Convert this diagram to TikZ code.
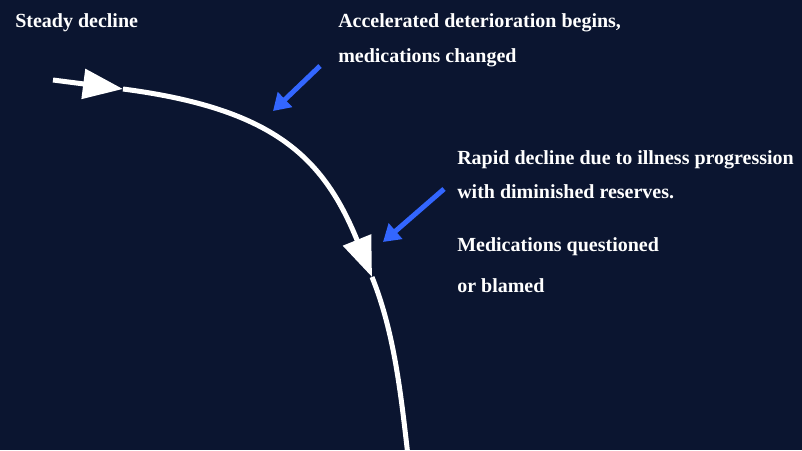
\documentclass[tikz,border=0pt]{standalone}
\usepackage{fontspec}
\setmainfont{Liberation Serif}
\usetikzlibrary{arrows.meta}
\definecolor{bgnavy}{RGB}{11,21,48}
\definecolor{ptrblue}{RGB}{51,102,255}
\tikzset{
  trend/.style={line width=3.75pt, white},
  bigtip/.style={-{Triangle[length=30pt,width=22pt]}},
  pointer/.style={line width=3.75pt, ptrblue, -{Triangle[length=12.5pt,width=15pt]}},
  note/.style={anchor=base west, inner sep=0pt, text=white, font=\fontsize{15}{18}\selectfont\bfseries},
}

\begin{document}
\begin{tikzpicture}[x=0.75pt,y=-0.75pt]
% background
\fill[bgnavy] (0,0) rectangle (802,450);
\useasboundingbox (0,0) rectangle (802,450);

% labels
\node[note] (steady) at (15,27) {Steady decline};
\node[note] (accelA) at (338,27.5) {Accelerated deterioration begins,};
\node[note] (accelB) at (338,62) {medications changed};
\node[note] (rapidA) at (457,164) {Rapid decline due to illness progression};
\node[note] (rapidB) at (457,198) {with diminished reserves.};
\node[note] (medsA) at (457,251) {Medications questioned};
\node[note] (medsB) at (457,292) {or blamed};

% trend curve
\coordinate (start) at (53,80);
\coordinate (bendA) at (123,89);
\coordinate (bendB) at (372,277);
\coordinate (finish) at (408,456);
\draw[trend, bigtip] (start) -- (bendA);
\draw[trend, bigtip] (bendA) .. controls (272,108.5) and (323,156) .. (bendB);
\draw[trend] (bendB) .. controls (394.5,332.6) and (401,395.4) .. (finish);

% pointers
\coordinate (accelFrom) at (320,66);
\coordinate (accelTo) at (273,111);
\coordinate (rapidFrom) at (444,189);
\coordinate (rapidTo) at (383,242);
\draw[pointer] (accelFrom) -- (accelTo);
\draw[pointer] (rapidFrom) -- (rapidTo);
\end{tikzpicture}
\end{document}
